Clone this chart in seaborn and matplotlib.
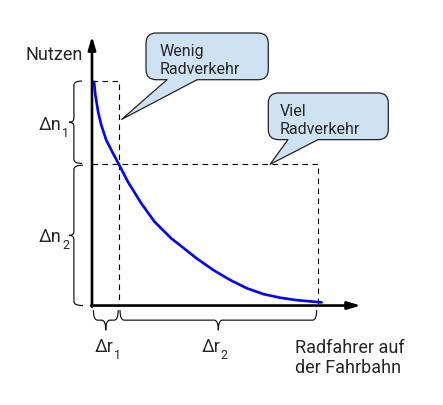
import matplotlib
matplotlib.use('Agg')
import matplotlib.pyplot as plt
import seaborn as sns
from matplotlib.path import Path
from matplotlib.patches import PathPatch, FancyBboxPatch

# Kurve: Nutzen ueber Radfahrer auf der Fahrbahn
radfahrer = [0.09, 0.15, 0.27, 0.41, 0.63, 0.93, 1.19, 1.59, 2.18, 2.77, 3.51, 3.89,
             4.63, 5.37, 6.11, 6.85, 7.58, 8.32, 9.06, 10.16]
nutzen = [9.97, 9.38, 8.63, 8.04, 7.37, 6.78, 6.29, 5.51, 4.55, 3.73, 2.99, 2.69,
          2.10, 1.58, 1.14, 0.77, 0.51, 0.35, 0.24, 0.14]

# Markierungen
r_grenzen = [1.19, 10.0]      # Δr1 endet bei r1, Δr2 bei r2
n_grenzen = [10.0, 6.29]      # oberer Nutzen, Nutzen bei r1

n_labels = [('Δn', '1'), ('Δn', '2')]
r_labels = [('Δr', '1'), ('Δr', '2')]
blasen_texte = [['Wenig', 'Radverkehr'], ['Viel', 'Radverkehr']]

sns.set_theme(style='white')
plt.rcParams['font.family'] = ['Roboto', 'DejaVu Sans']

fig = plt.figure(figsize=(4.43, 4.05), dpi=100)
ax = fig.add_axes([0, 0, 1, 1])
ax.set_xlim(-4.07, 15.53)
ax.set_ylim(-4.43, 13.61)

r1, r2 = r_grenzen
n_top, n_mid = n_grenzen

# gestrichelte Hilfslinien
ds = dict(color='black', lw=0.8, linestyle=(0, (5, 4)), zorder=1)
ax.plot([0, r1, r1], [n_top, n_top, 0], **ds)
ax.plot([0, r2, r2], [n_mid, n_mid, 0], **ds)

# Kurve
sns.lineplot(x=radfahrer, y=nutzen, color='#0000ff', linewidth=1.9, sort=False, ax=ax, zorder=3)

# Achsen mit Pfeilen
pfeil = dict(arrowstyle='-|>,head_length=0.55,head_width=0.16', color='black', lw=1.9,
             shrinkA=0, shrinkB=0, mutation_scale=14)
ax.annotate('', xy=(0, 12.0), xytext=(0, -0.05), arrowprops=pfeil, zorder=4)
ax.annotate('', xy=(11.9, 0), xytext=(-0.04, 0), arrowprops=pfeil, zorder=4)


def klammer(a, b, pos, hook, tip, c, vertikal):
    m = (a + b) / 2
    pts = [(b, pos + hook), (b, pos), (b - c, pos),
           (m + c, pos), (m, pos), (m, pos - tip),
           (m, pos), (m - c, pos),
           (a + c, pos), (a, pos), (a, pos + hook)]
    codes = [Path.MOVETO, Path.CURVE3, Path.CURVE3, Path.LINETO, Path.CURVE3, Path.CURVE3,
             Path.CURVE3, Path.CURVE3, Path.LINETO, Path.CURVE3, Path.CURVE3]
    if vertikal:
        pts = [(p, s) for s, p in pts]
    ax.add_patch(PathPatch(Path(pts, codes), fc='none', ec='black', lw=0.8))


def delta(x_ende, y, label, kern=0.8):
    # "Δn" rechtsbuendig bis x_ende, Index tief daneben
    haupt, index = label
    ax.text(x_ende, y, haupt, ha='right', va='baseline', fontsize=13)
    ax.annotate(index, xy=(x_ende, y), xytext=(kern, -5), textcoords='offset points',
                ha='left', va='baseline', fontsize=9)


# Klammern links (Nutzen)
klammer(n_mid + 0.04, n_top, -0.80, 0.36, 0.22, 0.18, True)
klammer(0, n_mid - 0.04, -0.80, 0.40, 0.22, 0.18, True)
# Klammern unten (Radfahrer)
klammer(0.06, r1 - 0.03, -0.65, 0.45, 0.45, 0.18, False)
klammer(r1 + 0.05, r2 - 0.06, -0.65, 0.45, 0.45, 0.18, False)

delta(-1.37, 7.82, n_labels[0])
delta(-1.37, 2.83, n_labels[1])
delta(0.96, -2.07, r_labels[0], kern=0)
delta(5.68, -2.07, r_labels[1], kern=0)

# Achsenbeschriftungen
ax.text(-0.40, 10.94, 'Nutzen', ha='right', va='baseline', fontsize=13)
ax.text(8.98, -2.13, 'Radfahrer auf', ha='left', va='baseline', fontsize=13)
ax.text(8.98, -3.02, 'der Fahrbahn', ha='left', va='baseline', fontsize=13)

# Sprechblasen
blasen = [
    dict(box=(2.39, 10.06, 5.41, 2.08), basis=(3.32, 4.65), spitze=(1.31, 8.29),
         text=(2.98, [11.10, 10.31])),
    dict(box=(7.80, 7.39, 5.31, 2.08), basis=(8.67, 10.0), spitze=(7.88, n_mid),
         text=(8.32, [8.43, 7.64])),
]
fuell, rand = '#cfe2f3', '#222222'
for blase, zeilen in zip(blasen, blasen_texte):
    x0, y0, w, h = blase['box']
    ax.add_patch(FancyBboxPatch((x0, y0), w, h, boxstyle='round,pad=0,rounding_size=0.45',
                                fc=fuell, ec=rand, lw=0.9, zorder=5))
    bl, br = blase['basis']
    sx, sy = blase['spitze']
    ax.fill([bl, bl, sx, br, br], [y0 + 0.15, y0, sy, y0, y0 + 0.15], color=fuell, lw=0, zorder=6)
    ax.plot([bl, sx, br], [y0, sy, y0], color=rand, lw=0.9, zorder=7)
    tx, ty = blase['text']
    for zeile, y in zip(zeilen, ty):
        ax.text(tx, y, zeile, ha='left', va='baseline', fontsize=11.5, zorder=8)

ax.axis('off')
fig.savefig('out.png', dpi=100)
